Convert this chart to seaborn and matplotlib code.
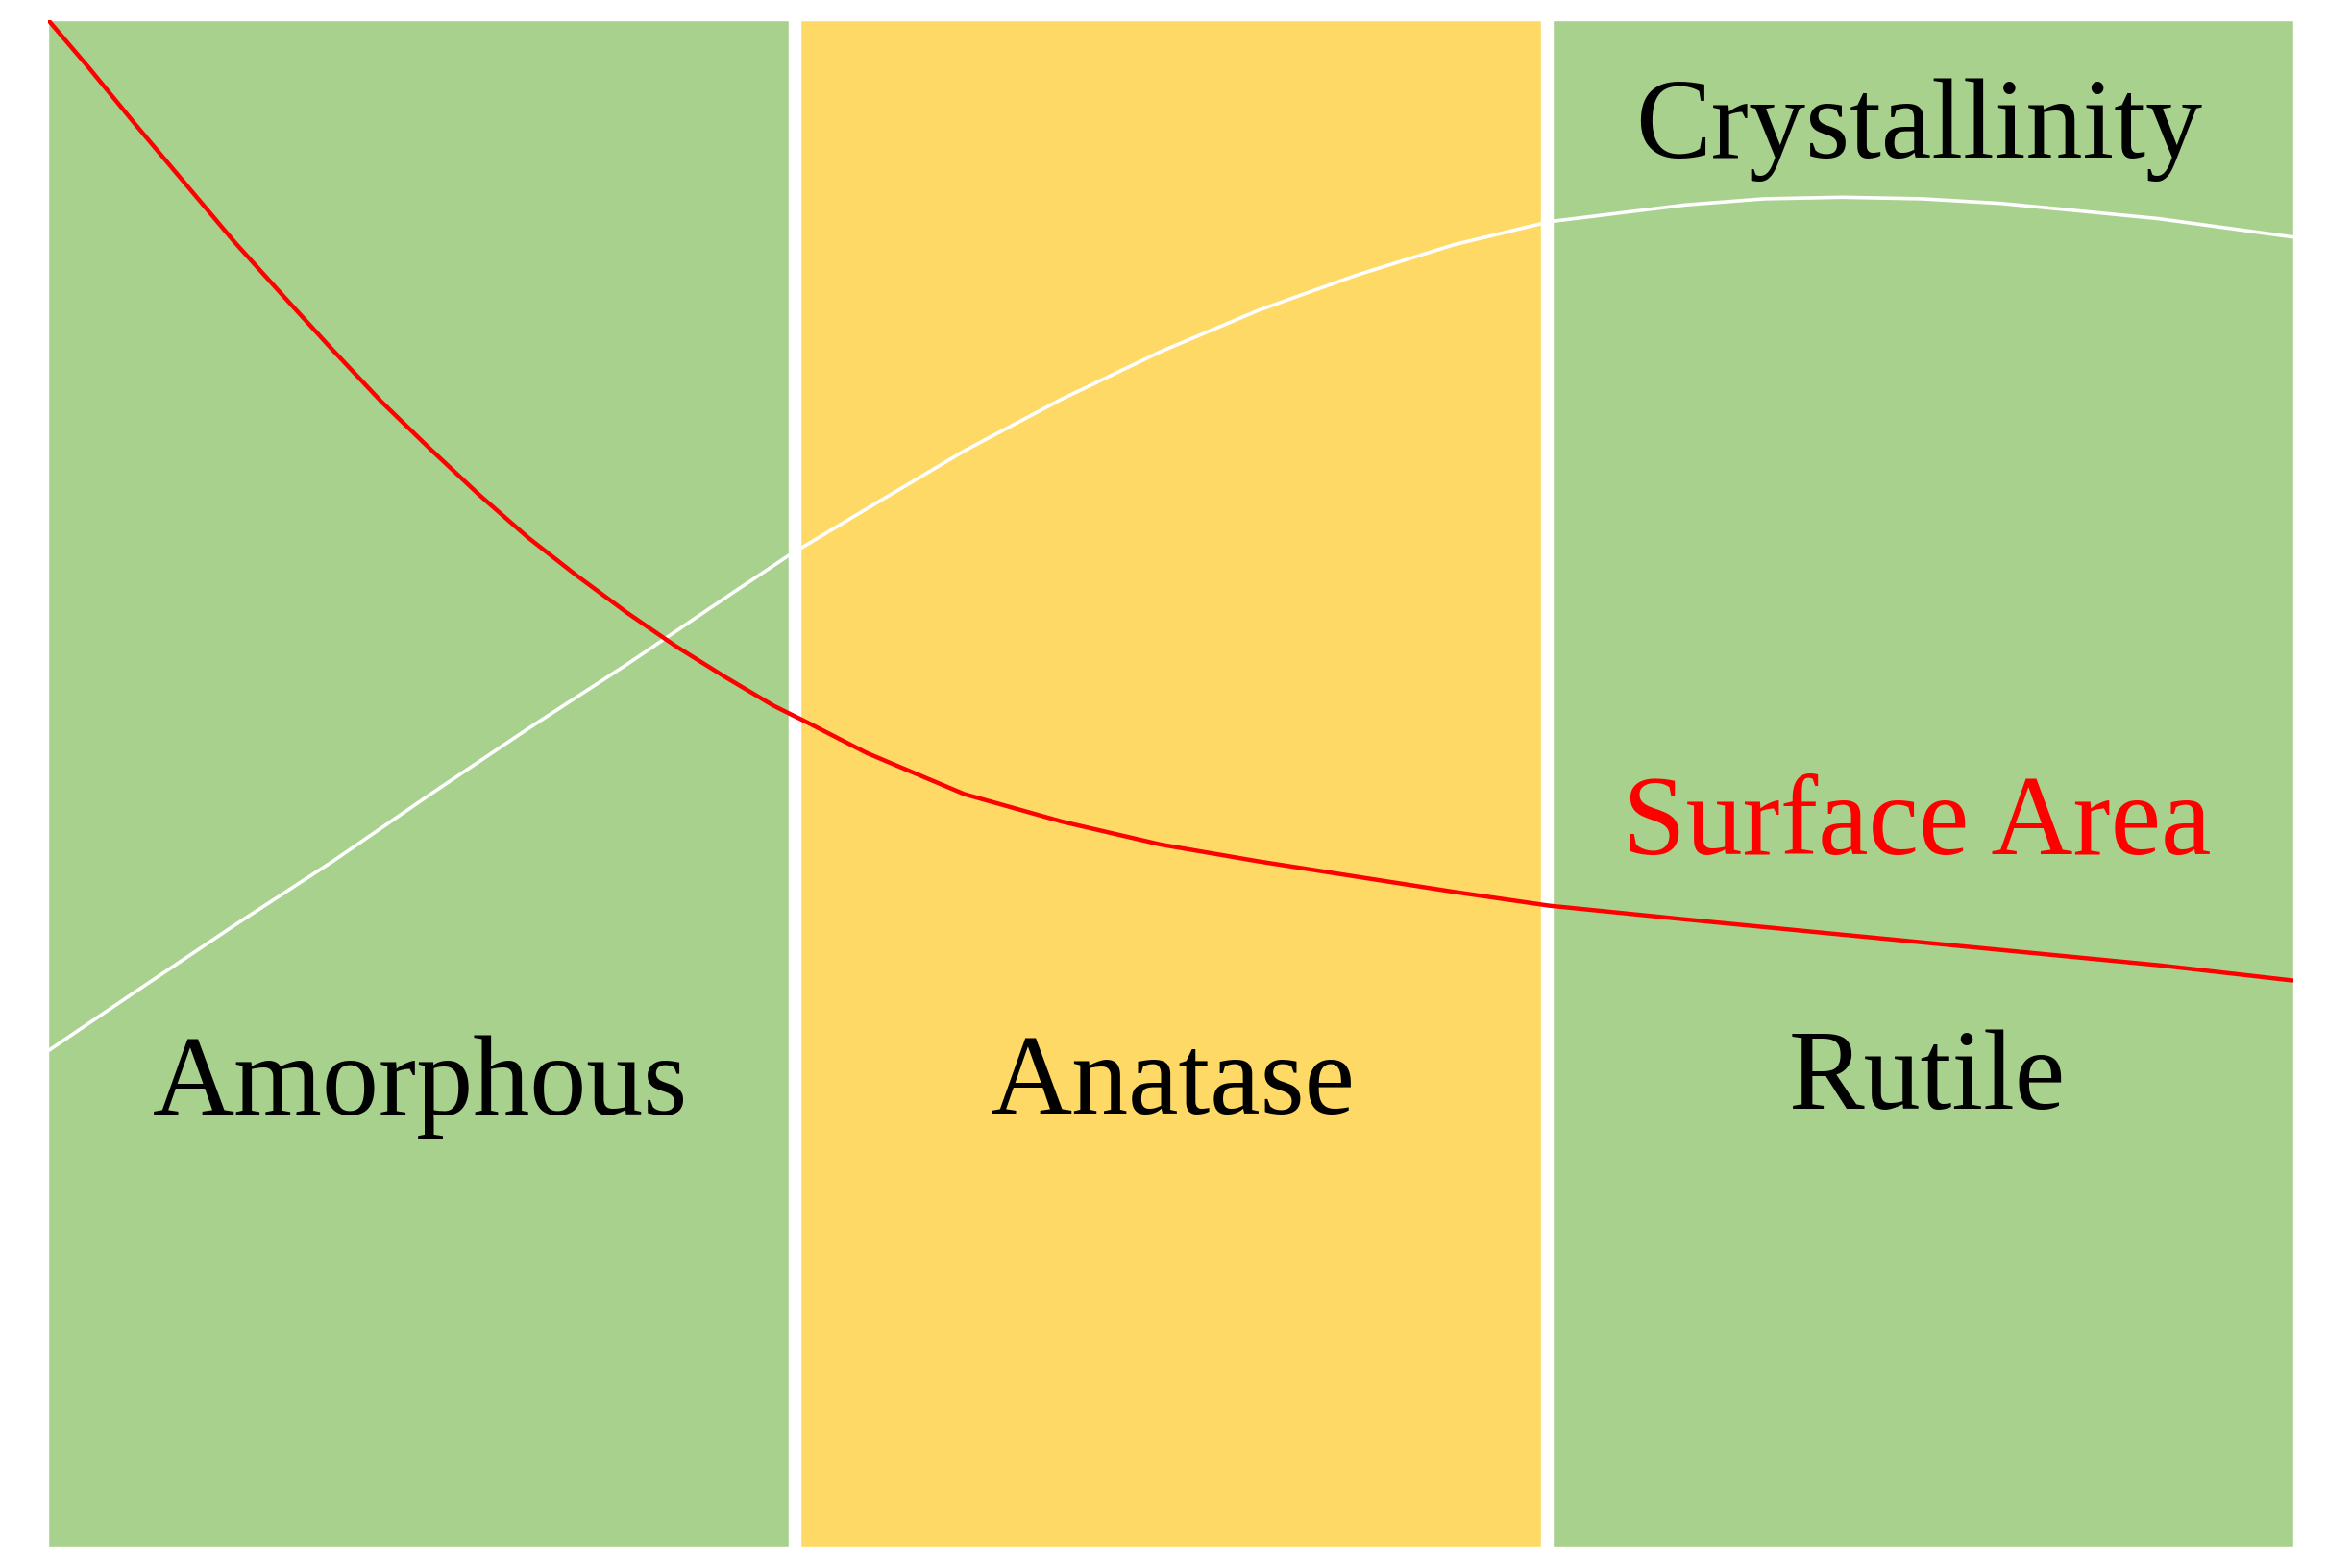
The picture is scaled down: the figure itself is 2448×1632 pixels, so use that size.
import matplotlib
matplotlib.use("Agg")
import matplotlib.pyplot as plt
import seaborn as sns

# phase regions
phases = ["Amorphous", "Anatase", "Rutile"]
phase_height = [1.0, 1.0, 1.0]
phase_colors = ["#A9D18E", "#FFD966", "#A9D18E"]

# curves (x in phase units, y as fraction of height)
surface_x = [-0.492, -0.440, -0.375, -0.310, -0.245, -0.179, -0.114, -0.049,
             0.016, 0.081, 0.146, 0.211, 0.277, 0.342, 0.407, 0.472, 0.517,
             0.596, 0.726, 0.856, 0.987, 1.117, 1.247, 1.377, 1.503, 1.684,
             1.893, 2.103, 2.313, 2.491]
surface_y = [1.000, 0.970, 0.931, 0.893, 0.855, 0.819, 0.784, 0.750,
             0.719, 0.689, 0.661, 0.636, 0.612, 0.590, 0.570, 0.551, 0.540,
             0.520, 0.493, 0.475, 0.460, 0.449, 0.439, 0.429, 0.420, 0.411,
             0.401, 0.391, 0.381, 0.371]

cryst_x = [-0.492, -0.375, -0.245, -0.114, 0.016, 0.146, 0.277, 0.415, 0.491,
           0.596, 0.726, 0.856, 0.987, 1.117, 1.247, 1.377, 1.503, 1.684,
           1.789, 1.893, 1.998, 2.103, 2.209, 2.313, 2.402, 2.491]
cryst_y = [0.325, 0.364, 0.407, 0.449, 0.493, 0.536, 0.578, 0.624, 0.649,
           0.680, 0.718, 0.752, 0.783, 0.810, 0.833, 0.853, 0.868, 0.879,
           0.883, 0.884, 0.883, 0.880, 0.875, 0.870, 0.864, 0.858]

gap = 0.0153

sns.set_style("white")
plt.rcParams["font.family"] = ["Liberation Serif", "DejaVu Serif"]

fig = plt.figure(figsize=(24.48, 16.32), dpi=100)
ax = fig.add_axes([50 / 2448, 1 - 1610 / 1632, 2337 / 2448, 1589 / 1632])

sns.barplot(x=phases, y=phase_height, hue=phases, palette=phase_colors,
            width=1 - gap, legend=False, ax=ax, saturation=1)

sns.lineplot(x=cryst_x, y=cryst_y, color="white", linewidth=2.6,
             solid_joinstyle="round", ax=ax)
sns.lineplot(x=surface_x, y=surface_y, color="#FF0000", linewidth=3.2,
             solid_joinstyle="round", ax=ax)

ax.set_xlim(-0.5 + gap / 2, 2.5 - gap / 2)
ax.set_ylim(0, 1)
ax.axis("off")

fs = 85
ax.text(0.002, 0.283, "Amorphous", ha="center", va="baseline", fontsize=fs, color="black")
ax.text(1.003, 0.284, "Anatase", ha="center", va="baseline", fontsize=fs, color="black")
ax.text(2.006, 0.287, "Rutile", ha="center", va="baseline", fontsize=fs, color="black")
ax.text(1.992, 0.454, "Surface Area", ha="center", va="baseline", fontsize=fs, color="#FF0000")
ax.text(1.994, 0.910, "Crystallinity", ha="center", va="baseline", fontsize=fs, color="black")

plt.savefig("out.png", dpi=100)
plt.close()
